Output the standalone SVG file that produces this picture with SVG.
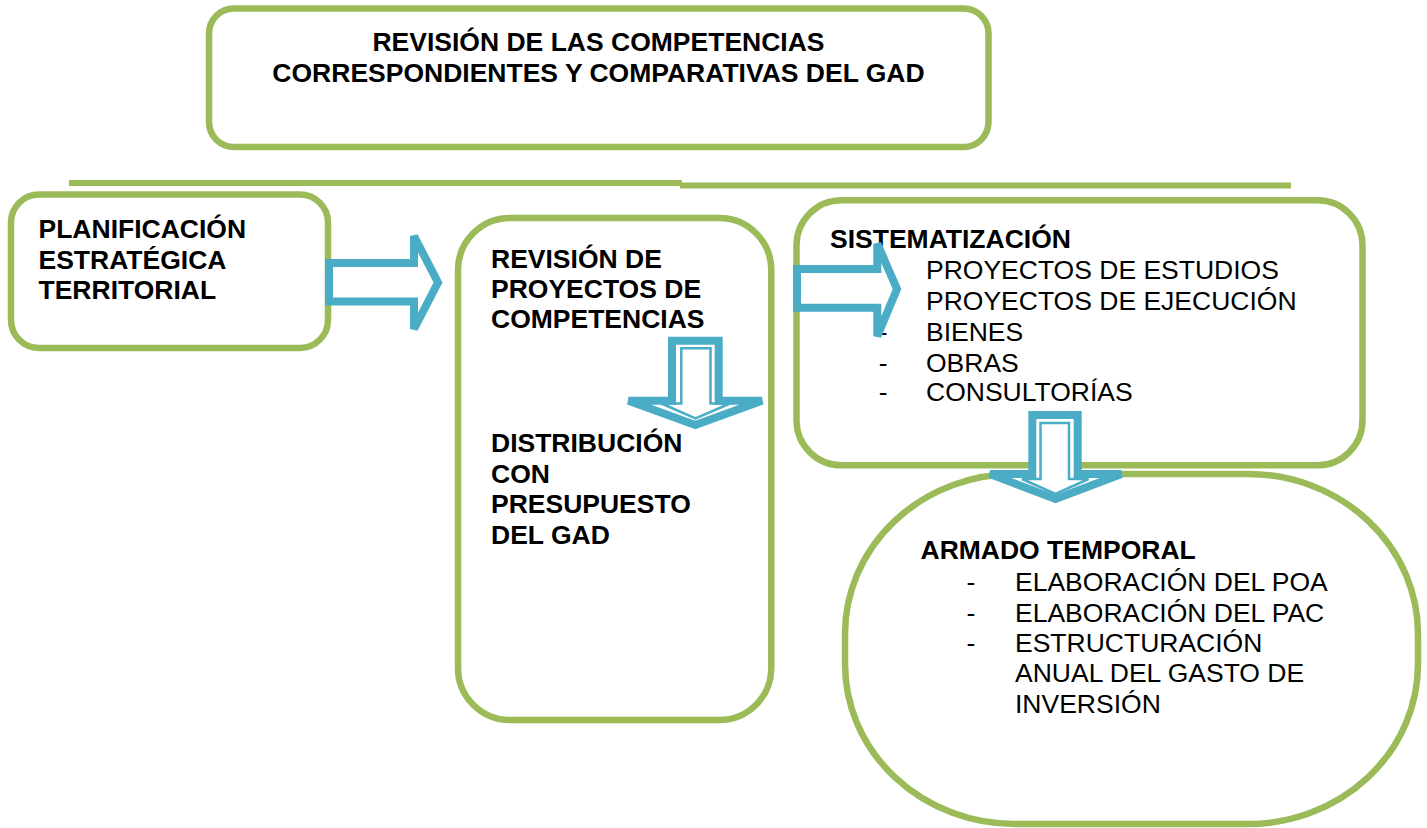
<svg xmlns="http://www.w3.org/2000/svg" width="1427" height="828" viewBox="0 0 1427 828">
<style>
.box{fill:#ffffff;stroke:#9BBB59;stroke-width:6.5}
.rule{stroke:#9BBB59;stroke-width:6;fill:none}
.arw{fill:#ffffff;stroke:#4BACC6;stroke-width:8;stroke-linejoin:miter}
.arwin{fill:none;stroke:#4BACC6;stroke-width:2.5}
.b{font-family:"Liberation Sans",Arial,sans-serif;font-weight:bold;font-size:26.5px;fill:#000}
.r{font-family:"Liberation Sans",Arial,sans-serif;font-size:26.5px;fill:#000}
</style>
<rect width="1427" height="828" fill="#ffffff"/>

<g id="top">
<rect class="box" x="209" y="8.5" width="779.5" height="138.5" rx="25"/>
<text class="b" x="598.5" y="50.7" text-anchor="middle">REVISIÓN DE LAS COMPETENCIAS</text>
<text class="b" x="598.5" y="81.7" text-anchor="middle">CORRESPONDIENTES Y COMPARATIVAS DEL GAD</text>
</g>

<g id="rules">
<line class="rule" x1="69" y1="183" x2="682" y2="183"/>
<line class="rule" x1="680" y1="185.5" x2="1291" y2="185.5"/>
</g>

<g id="planificacion">
<rect class="box" x="11" y="194.5" width="317" height="153.5" rx="28"/>
<text class="b" x="38.5" y="238">PLANIFICACIÓN</text>
<text class="b" x="38.5" y="268.5">ESTRATÉGICA</text>
<text class="b" x="38.5" y="299">TERRITORIAL</text>
</g>

<g id="revision">
<rect class="box" x="458" y="218" width="313.3" height="502" rx="52"/>
<text class="b" x="491" y="268">REVISIÓN DE</text>
<text class="b" x="491" y="298.3">PROYECTOS DE</text>
<text class="b" x="491" y="328.3">COMPETENCIAS</text>
<text class="b" x="491" y="452">DISTRIBUCIÓN</text>
<text class="b" x="491" y="482.5">CON</text>
<text class="b" x="491" y="513">PRESUPUESTO</text>
<text class="b" x="491" y="544">DEL GAD</text>
</g>

<g id="sistematizacion">
<rect class="box" x="796.5" y="200.3" width="566" height="265" rx="45"/>
<text class="b" x="830" y="248">SISTEMATIZACIÓN</text>
<text class="r" x="926" y="279">PROYECTOS DE ESTUDIOS</text>
<text class="r" x="926" y="310">PROYECTOS DE EJECUCIÓN</text>
<text class="r" x="878.8" y="341">-</text>
<text class="r" x="926" y="341">BIENES</text>
<text class="r" x="878.8" y="371.5">-</text>
<text class="r" x="926" y="371.5">OBRAS</text>
<text class="r" x="878.8" y="401">-</text>
<text class="r" x="926" y="401">CONSULTORÍAS</text>
</g>

<g id="armado">
<rect class="box" x="845" y="474" width="573" height="350" rx="170" ry="160"/>
<text class="b" x="920.5" y="559">ARMADO TEMPORAL</text>
<text class="r" x="966.5" y="591">-</text>
<text class="r" x="1015" y="591">ELABORACIÓN DEL POA</text>
<text class="r" x="966.5" y="621.5">-</text>
<text class="r" x="1015" y="621.5">ELABORACIÓN DEL PAC</text>
<text class="r" x="966.5" y="652">-</text>
<text class="r" x="1015" y="652">ESTRUCTURACIÓN</text>
<text class="r" x="1015" y="682">ANUAL DEL GASTO DE</text>
<text class="r" x="1015" y="712.5">INVERSIÓN</text>
</g>

<g id="connectors">
<path class="arw" d="M329,263 L414,263 L414,236 L438,282.5 L414,329 L414,301.5 L329,301.5 Z"/>
<path class="arw" d="M797,269 L877.3,269 L877.3,243.7 L897,289 L877.3,336.3 L877.3,307.7 L797,307.7 Z"/>
<path class="arw" d="M672,340.7 L718.7,340.7 L718.7,400.7 L762,400.7 L695.3,425 L628.5,400.7 L672,400.7 Z"/>
<path class="arwin" d="M681.3,348.3 L710.5,348.3 L710.5,403.5 L730,403.5 L695.5,418.5 L661.5,403.5 L681.3,403.5 Z"/>
<path class="arw" d="M1032.3,415 L1077.7,415 L1077.7,474 L1121.5,474 L1055.5,499 L990,474 L1032.3,474 Z"/>
<path class="arwin" d="M1040.5,423 L1069,423 L1069,479 L1088.5,479 L1055.5,494 L1022,479 L1040.5,479 Z"/>
</g>
</svg>
